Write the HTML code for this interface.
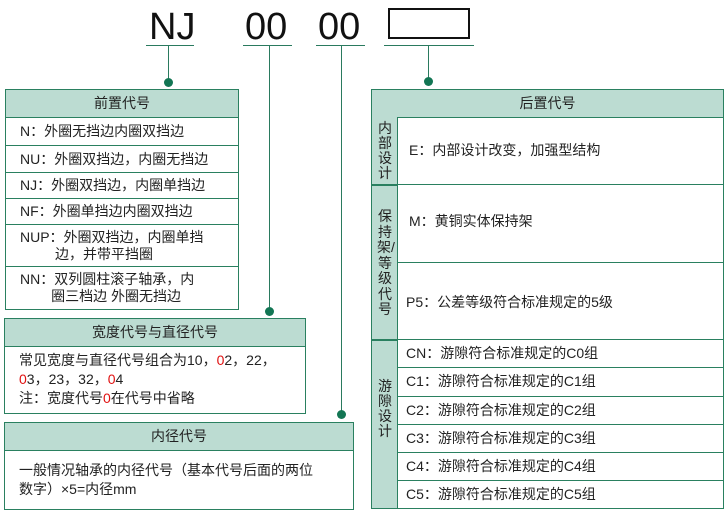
<!DOCTYPE html>
<html><head><meta charset="utf-8"><style>
*{box-sizing:border-box}
body{margin:0;width:727px;height:513px;background:#fff;position:relative;font-family:"Liberation Sans","Noto Sans CJK SC",sans-serif;color:#222;overflow:hidden}
.a{position:absolute}
.big{font-size:38px;line-height:38px;color:#111}
.ul{height:1px;background:#2a7a5e}
.vl{width:1px;background:#2a7a5e}
.dot{width:9px;height:9px;border-radius:50%;background:#137654}
.box{border:1.5px solid #2a8060}
.hd{background:#bcdcd2;border-bottom:1.5px solid #2a8060;text-align:center;font-size:14px}
.row{border-bottom:1.5px solid #2a8060;font-size:14px;display:flex;align-items:center;padding-left:14px;line-height:17px}
.r{color:#e01010}
</style></head><body>
<div class="a big" style="left:149px;top:8px">NJ</div>
<div class="a big" style="left:245px;top:8px">00</div>
<div class="a big" style="left:318px;top:8px">00</div>
<div class="a" style="left:388px;top:8px;width:82px;height:31px;border:2px solid #111"></div>
<div class="a ul" style="left:146px;top:45px;width:48px"></div>
<div class="a ul" style="left:243px;top:45px;width:49px"></div>
<div class="a ul" style="left:316px;top:45px;width:49px"></div>
<div class="a ul" style="left:384px;top:45px;width:90px"></div>
<div class="a vl" style="left:168px;top:45px;height:37px"></div>
<div class="a vl" style="left:269px;top:45px;height:266px"></div>
<div class="a vl" style="left:341px;top:45px;height:370px"></div>
<div class="a vl" style="left:428px;top:45px;height:36px"></div>
<div class="a dot" style="left:164px;top:78px"></div>
<div class="a dot" style="left:265px;top:307px"></div>
<div class="a dot" style="left:337px;top:410px"></div>
<div class="a dot" style="left:424px;top:77px"></div>

<div class="a box" style="left:5px;top:89px;width:234px;height:221px">
<div class="hd" style="height:28px;line-height:27px">前置代号</div>
<div class="row" style="height:28px">N：外圈无挡边内圈双挡边</div>
<div class="row" style="height:27px">NU：外圈双挡边，内圈无挡边</div>
<div class="row" style="height:26px">NJ：外圈双挡边，内圈单挡边</div>
<div class="row" style="height:26px">NF：外圈单挡边内圈双挡边</div>
<div class="row" style="height:42px">NUP：外圈双挡边，内圈单挡<br>&nbsp;&nbsp;&nbsp;&nbsp;&nbsp;&nbsp;&nbsp;&nbsp;&nbsp;边，并带平挡圈</div>
<div class="row" style="height:41px;border-bottom:none">NN：双列圆柱滚子轴承，内<br>&nbsp;&nbsp;&nbsp;&nbsp;&nbsp;&nbsp;&nbsp;&nbsp;圈三档边 外圈无挡边</div>
</div>

<div class="a box" style="left:4px;top:318px;width:302px;height:96px">
<div class="hd" style="height:28px;line-height:27px">宽度代号与直径代号</div>
<div style="font-size:14px;line-height:19px;padding:4px 0 0 14px">常见宽度与直径代号组合为10，<span class="r">0</span>2，22，<br><span class="r">0</span>3，23，32，<span class="r">0</span>4<br>注：宽度代号<span class="r">0</span>在代号中省略</div>
</div>

<div class="a box" style="left:4px;top:422px;width:350px;height:88px">
<div class="hd" style="height:28px;line-height:27px">内径代号</div>
<div style="font-size:14px;line-height:19px;padding:10px 0 0 14px">一般情况轴承的内径代号（基本代号后面的两位<br>数字）×5=内径mm</div>
</div>

<div class="a box" style="left:371px;top:89px;width:353px;height:420px">
<div class="hd" style="height:28px;line-height:27px">后置代号</div>
<div class="a" style="left:0;top:26.5px;width:26px;height:391px;background:#bcdcd2;border-right:1.5px solid #2a8060"></div>
<div class="a" style="left:0;top:94px;width:26px;height:1.5px;background:#2a8060"></div>
<div class="a" style="left:0;top:249px;width:26px;height:1.5px;background:#2a8060"></div>
<div class="a" style="left:5px;top:31px;width:16px;font-size:14px;line-height:15px;text-align:center">内部设计</div>
<div class="a" style="left:5px;top:119px;width:16px;font-size:14px;line-height:15.5px;text-align:center">保持架/等级代号</div>
<div class="a" style="left:5px;top:289px;width:16px;font-size:14px;line-height:15px;text-align:center">游隙设计</div>
<div class="a" style="left:26px;top:26.5px;right:0">
<div class="row" style="height:68px;padding-left:11px">E：内部设计改变，加强型结构</div>
<div class="row" style="height:78px;padding-left:11px;align-items:flex-start;padding-top:28px">M：黄铜实体保持架</div>
<div class="row" style="height:77px;padding-left:8px;padding-top:4px">P5：公差等级符合标准规定的5级</div>
<div class="row" style="height:28px;padding-left:8px">CN：游隙符合标准规定的C0组</div>
<div class="row" style="height:29px;padding-left:8px">C1：游隙符合标准规定的C1组</div>
<div class="row" style="height:28px;padding-left:8px">C2：游隙符合标准规定的C2组</div>
<div class="row" style="height:28px;padding-left:8px">C3：游隙符合标准规定的C3组</div>
<div class="row" style="height:28px;padding-left:8px">C4：游隙符合标准规定的C4组</div>
<div class="row" style="height:27px;padding-left:8px;border-bottom:none">C5：游隙符合标准规定的C5组</div>
</div>
</div>
</body></html>
